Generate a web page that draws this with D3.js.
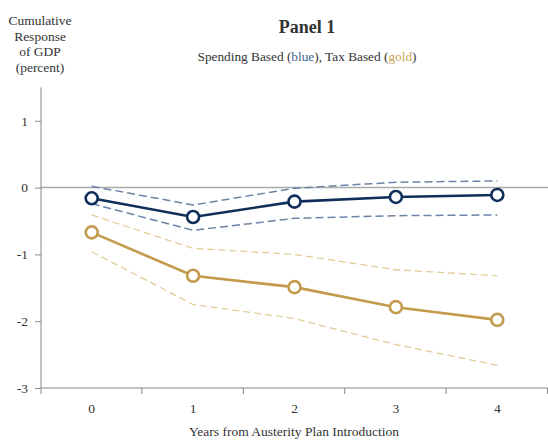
<!DOCTYPE html>
<html>
<head>
<meta charset="utf-8">
<script src="https://cdn.jsdelivr.net/npm/d3@7"></script>
<style>
  body { margin: 0; background: #fff; }
  text { font-family: "Liberation Serif", "Times New Roman", serif; fill: #333; }
</style>
</head>
<body>
<div class="wrapper"></div>
<script>
// years after plan introduction
var years = [0, 1, 2, 3, 4];

// spending based plans (blue)
var spending = [-0.16, -0.44, -0.21, -0.14, -0.11];
var spendingHi = [0.02, -0.26, -0.01, 0.08, 0.10];
var spendingLo = [-0.24, -0.64, -0.46, -0.42, -0.41];

// tax based plans (gold)
var tax = [-0.67, -1.32, -1.49, -1.79, -1.98];
var taxHi = [-0.41, -0.91, -1.0, -1.23, -1.32];
var taxLo = [-0.96, -1.75, -1.96, -2.35, -2.66];

var yTicks = [1, 0, -1, -2, -3];

var width = 548,
    height = 441;

var svg = d3.select(".wrapper").append("svg")
    .attr("width", width)
    .attr("height", height);

var x = d3.scaleBand()
    .domain(years)
    .range([41, 548]);

var y = d3.scaleLinear()
    .domain([-3, 1.5])
    .range([388, 87.4]);

function cx(d, i) { return x(years[i]) + x.bandwidth() / 2; }

// zero line
svg.append("line")
    .attr("x1", 41).attr("x2", 548)
    .attr("y1", y(0)).attr("y2", y(0))
    .attr("stroke", "#aaa")
    .attr("stroke-width", 1.5);

// y axis
var yAxis = svg.append("g")
    .attr("transform", "translate(41,0)")
    .call(d3.axisLeft(y).tickValues(yTicks).tickSize(6).tickPadding(7)
        .tickFormat(function(d) { return String(d); })); // plain hyphen, not unicode minus
yAxis.select(".domain").attr("stroke", "#888").attr("d", "M0," + y(1.5) + "V394");
yAxis.selectAll(".tick line").attr("stroke", "#888");
yAxis.selectAll(".tick text")
    .style("font-family", "Liberation Serif, serif")
    .style("font-size", "13.5px")
    .attr("fill", "#333");

// x axis: ticks between categories
var xAxis = svg.append("g")
    .attr("transform", "translate(0," + y(-3) + ")");
xAxis.append("line")
    .attr("x1", 41).attr("x2", 548)
    .attr("stroke", "#888").attr("stroke-width", 1.2);
xAxis.selectAll(".sep")
    .data(years.slice(1).concat(["end"]))
    .enter().append("line")
    .attr("x1", function(d, i) { return 41 + x.bandwidth() * (i + 1) - 0.5; })
    .attr("x2", function(d, i) { return 41 + x.bandwidth() * (i + 1) - 0.5; })
    .attr("y1", 0).attr("y2", 6)
    .attr("stroke", "#888");
xAxis.selectAll(".lbl")
    .data(years)
    .enter().append("text")
    .attr("x", function(d) { return x(d) + x.bandwidth() / 2; })
    .attr("y", 25)
    .attr("text-anchor", "middle")
    .style("font-size", "13.5px")
    .text(function(d) { return d; });

var line = d3.line()
    .x(cx)
    .y(function(d) { return y(d); });

function band(data, color, dash, w) {
    svg.append("path")
        .datum(data)
        .attr("d", line)
        .attr("fill", "none")
        .attr("stroke", color)
        .attr("stroke-width", w)
        .attr("stroke-dasharray", dash);
}

band(spendingHi, "#6a84a6", "8,4", 1.5);
band(spendingLo, "#6a84a6", "8,4", 1.5);
band(taxHi, "#e3cc9a", "7,4", 1.3);
band(taxLo, "#e3cc9a", "7,4", 1.3);

function series(data, color) {
    svg.append("path")
        .datum(data)
        .attr("d", line)
        .attr("fill", "none")
        .attr("stroke", color)
        .attr("stroke-width", 2.6);
    svg.append("g").selectAll("circle")
        .data(data)
        .enter().append("circle")
        .attr("cx", cx)
        .attr("cy", function(d) { return y(d); })
        .attr("r", 6)
        .attr("fill", "#fff")
        .attr("stroke", color)
        .attr("stroke-width", 2.6);
}

series(tax, "#c49a4c");
series(spending, "#0f2f5a");

// titles
svg.append("text")
    .attr("x", 307).attr("y", 33)
    .attr("text-anchor", "middle")
    .style("font-size", "18px")
    .style("font-weight", "bold")
    .text("Panel 1");

var sub = svg.append("text")
    .attr("x", 307).attr("y", 61)
    .attr("text-anchor", "middle")
    .style("font-size", "13.3px");
sub.append("tspan").text("Spending Based (");
sub.append("tspan").attr("fill", "#3a6594").text("blue");
sub.append("tspan").text("), Tax Based (");
sub.append("tspan").attr("fill", "#c9a55a").text("gold");
sub.append("tspan").text(")");

var yLabel = ["Cumulative", "Response", "of GDP", "(percent)"];
svg.append("text")
    .attr("text-anchor", "middle")
    .style("font-size", "13.5px")
    .selectAll("tspan")
    .data(yLabel)
    .enter().append("tspan")
    .attr("x", 40)
    .attr("y", function(d, i) { return 25 + i * 15.7; })
    .text(function(d) { return d; });

svg.append("text")
    .attr("x", 294).attr("y", 436)
    .attr("text-anchor", "middle")
    .style("font-size", "13.5px")
    .text("Years from Austerity Plan Introduction");
</script>
</body>
</html>
